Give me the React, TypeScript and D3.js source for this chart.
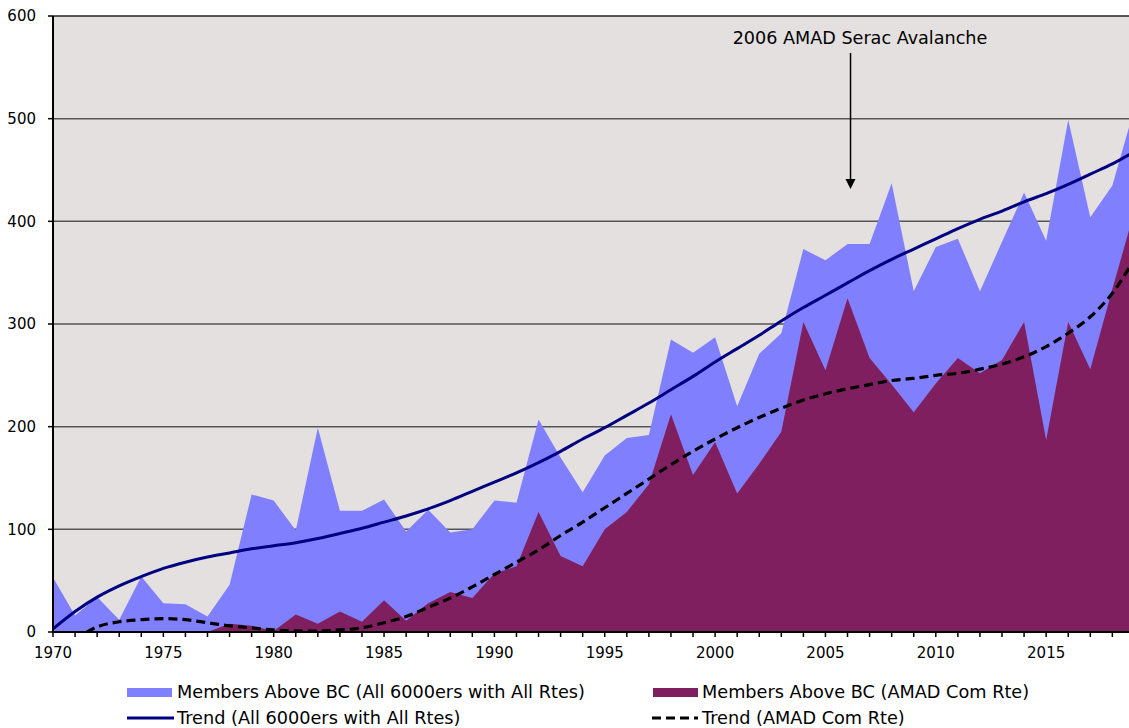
import React from "react";
import * as d3 from "d3";

const years: number[] = d3.range(1970, 2020);

const membersAllRoutes: number[] = [
  53, 16, 34, 12, 54, 28, 27, 15, 46, 134,
  128, 99, 199, 118, 118, 129, 98, 119, 97, 100,
  128, 126, 207, 170, 136, 172, 189, 192, 285, 272,
  287, 220, 271, 291, 373, 362, 378, 378, 437, 332,
  375, 383, 332, 380, 428, 381, 499, 404, 435, 510,
];

const membersAmad: number[] = [
  0, 0, 0, 0, 0, 0, 0, 0, 8, 6,
  1, 17, 8, 20, 10, 31, 11, 28, 39, 33,
  57, 64, 117, 74, 64, 100, 117, 144, 212, 153,
  185, 135, 164, 195, 302, 255, 325, 267, 241, 214,
  242, 267, 252, 265, 302, 187, 302, 256, 334, 410,
];

const trendAll: number[] = [
  3, 20, 34, 45, 54, 62, 68, 73, 77, 81,
  84, 87, 91, 96, 101, 107, 113, 120, 128, 137,
  146, 155, 165, 176, 188, 199, 211, 223, 236, 249,
  263, 276, 289, 303, 316, 328, 340, 352, 363, 373,
  383, 393, 402, 410, 419, 427, 436, 446, 456, 468,
];

const trendAmad: number[] = [
  -25, -8, 5, 10, 12, 13, 12, 9, 6, 4,
  2, 1, 1, 2, 4, 9, 15, 24, 33, 44,
  56, 68, 80, 94, 107, 121, 135, 149, 163, 176,
  188, 199, 209, 218, 226, 232, 237, 241, 245, 247,
  250, 252, 256, 261, 268, 278, 291, 307, 330, 363,
];

const yTicks: number[] = [0, 100, 200, 300, 400, 500, 600];
const xLabelYears: number[] = [1970, 1975, 1980, 1985, 1990, 1995, 2000, 2005, 2010, 2015];
const xTickYears: number[] = d3.range(1970, 2019);

const seriesNames: string[] = [
  "Members Above BC (All 6000ers with All Rtes)",
  "Members Above BC (AMAD Com Rte)",
  "Trend (All 6000ers with All Rtes)",
  "Trend (AMAD Com Rte)",
];
const annotationText = "2006 AMAD Serac Avalanche";
const annotationYear = 2006;

const W = 1129;
const H = 728;
const left = 53;
const right = 1129;
const top = 16;
const bottom = 632;
const font = "'DejaVu Sans', Verdana, sans-serif";

export default function App() {
  const x = d3.scaleLinear().domain([1970, 2019]).range([left, left + 49 * 22.07]);
  const y = d3.scaleLinear().domain([0, 600]).range([bottom, top]);

  const area = (vals: number[]) =>
    d3
      .area<number>()
      .x((_, i) => x(years[i]))
      .y0(y(0))
      .y1((d) => y(d))(vals) || "";

  const line = (vals: number[]) =>
    d3
      .line<number>()
      .x((_, i) => x(years[i]))
      .y((d) => y(d))
      .curve(d3.curveCatmullRom.alpha(0.5))(vals) || "";

  const ax = x(annotationYear) + 3;

  return (
    <svg
      width={W}
      height={H}
      style={{ position: "absolute", left: 0, top: 0, background: "#fff" }}
      fontFamily={font}
    >
      <defs>
        <clipPath id="plot">
          <rect x={left} y={top} width={right - left} height={bottom - top} />
        </clipPath>
      </defs>
      <rect x={left} y={top} width={right - left} height={bottom - top} fill="#E5E0E0" />
      {yTicks.slice(1).map((t) => (
        <line
          key={t}
          x1={left}
          x2={right}
          y1={y(t)}
          y2={y(t)}
          stroke={t === 600 ? "#222" : "#555"}
          strokeWidth={1.5}
        />
      ))}
      <g clipPath="url(#plot)">
        <path d={area(membersAllRoutes)} fill="#8080FF" />
        <path d={area(membersAmad)} fill="#801F5F" />
        <path d={line(trendAll)} fill="none" stroke="#000080" strokeWidth={3} />
        <path
          d={line(trendAmad)}
          fill="none"
          stroke="#000"
          strokeWidth={3.2}
          strokeDasharray="9,5"
        />
      </g>
      {/* axes */}
      <line x1={left} x2={left} y1={top} y2={bottom} stroke="#000" strokeWidth={2} />
      <line x1={left} x2={right} y1={bottom} y2={bottom} stroke="#000" strokeWidth={2} />
      {yTicks.map((t) => (
        <g key={t}>
          <line x1={left - 5} x2={left} y1={y(t)} y2={y(t)} stroke="#000" strokeWidth={1.5} />
          <text x={36} y={y(t)} dy="0.36em" textAnchor="end" fontSize={15} fill="#000">
            {t}
          </text>
        </g>
      ))}
      {xTickYears.map((yr) => (
        <line
          key={yr}
          x1={x(yr)}
          x2={x(yr)}
          y1={bottom}
          y2={bottom + 5}
          stroke="#000"
          strokeWidth={1.5}
        />
      ))}
      {xLabelYears.map((yr) => (
        <text key={yr} x={x(yr)} y={658} textAnchor="middle" fontSize={15} fill="#000">
          {yr}
        </text>
      ))}
      {/* annotation */}
      <text x={860} y={44} textAnchor="middle" fontSize={17.6} fill="#000">
        {annotationText}
      </text>
      <line x1={ax} x2={ax} y1={53} y2={181} stroke="#000" strokeWidth={1.5} />
      <path d={`M${ax - 5},179 L${ax + 5},179 L${ax},189 Z`} fill="#000" />
      {/* legend */}
      <rect x={127} y={688} width={45} height={9} fill="#8080FF" />
      <text x={177} y={698} fontSize={17.7} fill="#000">
        {seriesNames[0]}
      </text>
      <rect x={653} y={688} width={45} height={9} fill="#801F5F" />
      <text x={702} y={698} fontSize={17.7} fill="#000">
        {seriesNames[1]}
      </text>
      <line x1={127} x2={174} y1={718} y2={718} stroke="#000080" strokeWidth={3} />
      <text x={177} y={724} fontSize={17.7} fill="#000">
        {seriesNames[2]}
      </text>
      <line
        x1={652}
        x2={698}
        y1={718}
        y2={718}
        stroke="#000"
        strokeWidth={3.2}
        strokeDasharray="9,5"
      />
      <text x={702} y={724} fontSize={17.7} fill="#000">
        {seriesNames[3]}
      </text>
    </svg>
  );
}
